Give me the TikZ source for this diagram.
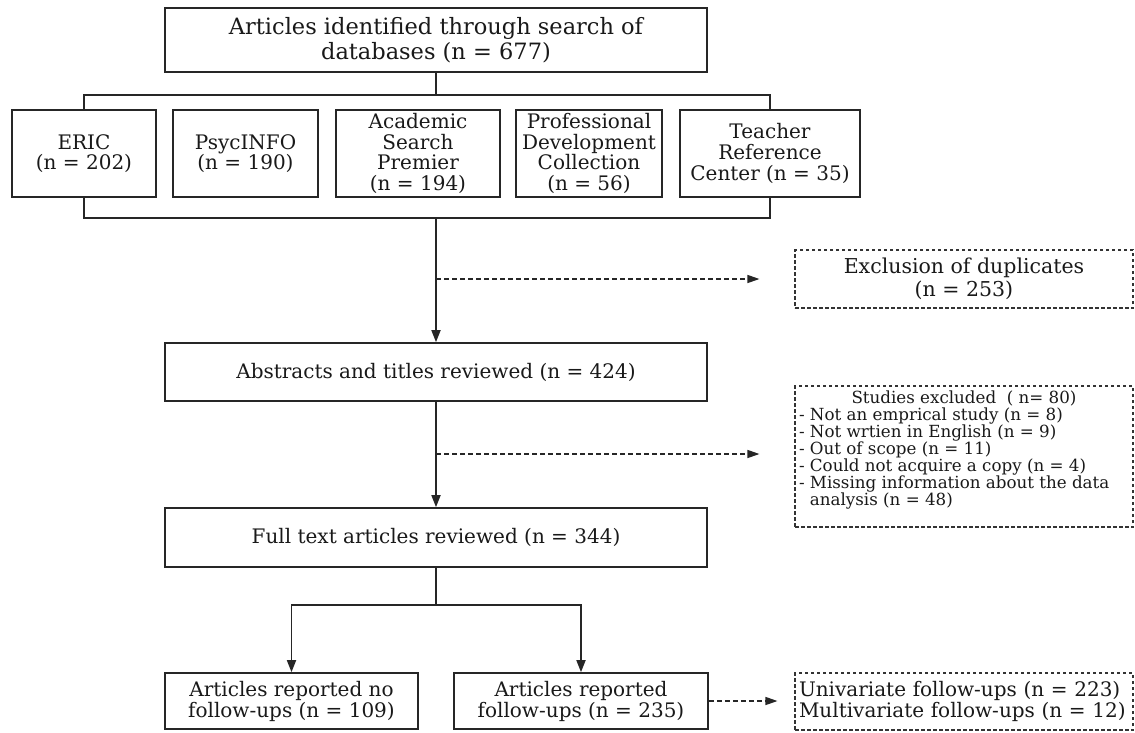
\documentclass[tikz,border=0pt]{standalone}
\usepackage{fontspec}
\setmainfont{DejaVu Serif}
\usetikzlibrary{arrows.meta}
\begin{document}
\begin{tikzpicture}[x=1pt,y=-1pt,
  box/.style={draw=black!85, line width=1.7pt, align=center, inner sep=0pt, text=black!90, font=\fontsize{20}{22}\selectfont},
  dbbox/.style={box, minimum height=87pt, font=\fontsize{20}{20.7}\selectfont},
  dbox/.style={draw=black!80, line width=1.1pt, dash pattern=on 3.5pt off 2.5pt, inner sep=0pt, text=black!90},
  arr/.style={line width=1.7pt, draw=black!85, -{Triangle[length=12pt,width=9pt]}},
  darr/.style={line width=1.3pt, draw=black!85, dash pattern=on 5pt off 3pt, -{Triangle[length=12pt,width=8pt]}},
  link/.style={line width=1.7pt, draw=black!85}]
\useasboundingbox (0,0) rectangle (1135,732);

\node[box, minimum width=542pt, minimum height=64pt, font=\fontsize{22.5}{24.5}\selectfont] (top) at (436,40) {Articles identified through search of\\databases (n = 677)};

\node[dbbox, minimum width=144pt] (eric) at (84,153.5) {ERIC\\(n = 202)};
\node[dbbox, minimum width=145pt] (psyc) at (245.5,153.5) {PsycINFO\\(n = 190)};
\node[dbbox, minimum width=164pt] (acad) at (418,153.5) {Academic\\Search\\Premier\\(n = 194)};
\node[dbbox, minimum width=146pt] (prof) at (589,153.5) {Professional\\Development\\Collection\\(n = 56)};
\node[dbbox, minimum width=180pt] (teach) at (770,153.5) {Teacher\\Reference\\Center (n = 35)};

\node[dbox, minimum width=338pt, minimum height=58pt, align=center, font=\fontsize{20.5}{23}\selectfont] (excl) at (964,279) {Exclusion of duplicates\\(n = 253)};

\node[box, minimum width=542pt, minimum height=58pt] (abs) at (436,372) {Abstracts and titles reviewed (n = 424)};

\node[dbox, minimum width=338pt, minimum height=141pt, font=\fontsize{16.7}{17}\selectfont] (stud) at (964,456.5) {\begin{minipage}[c]{330pt}\centering Studies excluded\ \ ( n= 80)\par\raggedright
- Not an emprical study (n = 8)\\
- Not wrtien in English (n = 9)\\
- Out of scope (n = 11)\\
- Could not acquire a copy (n = 4)\\
- Missing information about the data\\
\phantom{- }analysis (n = 48)\par\vspace{12pt}\end{minipage}};

\node[box, minimum width=542pt, minimum height=59pt] (full) at (436,537.5) {Full text articles reviewed (n = 344)};

\node[box, minimum width=253pt, minimum height=56pt, font=\fontsize{20}{21}\selectfont] (nof) at (291.5,701) {Articles reported no\\follow-ups (n = 109)};
\node[box, minimum width=254pt, minimum height=56pt, font=\fontsize{20}{21}\selectfont] (fol) at (581,701) {Articles reported\\follow-ups (n = 235)};

\node[dbox, minimum width=338pt, minimum height=57pt, text width=330pt, align=left, font=\fontsize{20}{20.5}\selectfont] (uni) at (964,701.5) {Univariate follow-ups (n = 223)\\Multivariate follow-ups (n = 12)};

\coordinate (bt) at (436,95);
\coordinate (bb) at (436,218);
\coordinate (d1) at (436,279);
\coordinate (d2) at (436,454);
\coordinate (sp) at (436,605);

\draw[link] (top.south) -- (bt);
\draw[link] (eric.north) -- (eric.north |- bt) -- (teach.north |- bt) -- (teach.north);
\draw[link] (eric.south) -- (eric.south |- bb) -- (teach.south |- bb) -- (teach.south);
\draw[arr] (bb) -- (abs.north);
\draw[darr, shorten >=35pt] (d1) -- (excl.west);
\draw[arr] (abs.south) -- (full.north);
\draw[darr, shorten >=35pt] (d2) -- (d2 -| stud.west);
\draw[link] (full.south) -- (sp);
\draw[arr] (sp) -| (nof.north);
\draw[arr] (sp) -| (fol.north);
\draw[darr, shorten >=17pt] (fol.east) -- (fol.east -| uni.west);
\end{tikzpicture}
\end{document}
